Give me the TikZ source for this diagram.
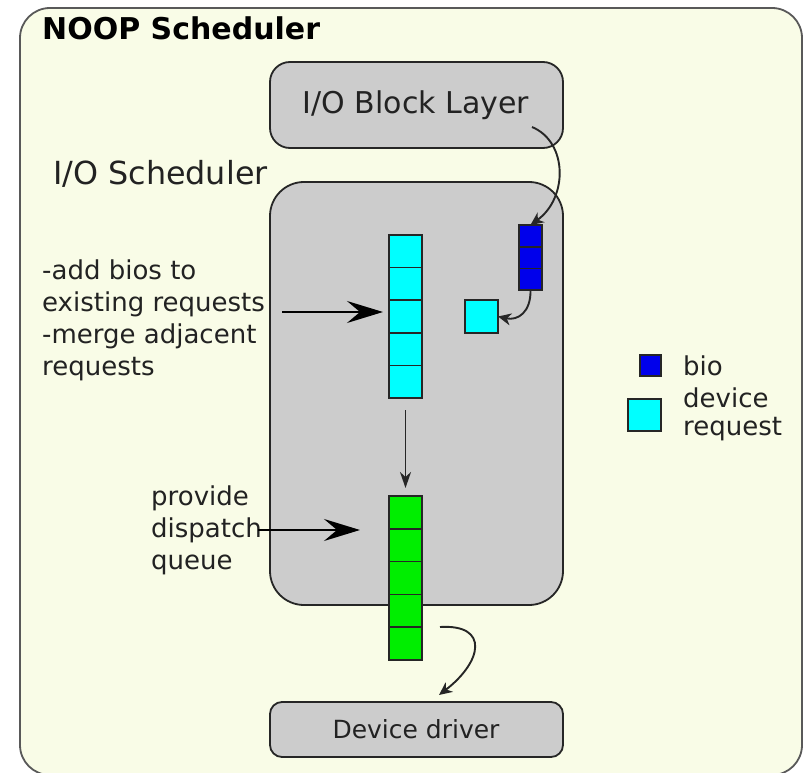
\documentclass[tikz,border=0pt]{standalone}
\usepackage{fontspec}
\setmainfont{DejaVu Sans}
\usetikzlibrary{arrows.meta}
\definecolor{bgyellow}{RGB}{249,252,231}
\definecolor{boxgray}{RGB}{204,204,204}
\definecolor{txt}{RGB}{34,34,34}
\definecolor{cyanc}{RGB}{0,255,255}
\definecolor{bluec}{RGB}{0,0,235}
\definecolor{greenc}{RGB}{0,238,0}
\tikzset{
  graybox/.style={draw=black!85, line width=1.8pt, fill=boxgray},
  cell/.style={draw=black!85, line width=1.7pt, inner sep=0pt, outer sep=0pt},
  cyancell/.style={cell, fill=cyanc, minimum width=33pt, minimum height=32.6pt},
  greencell/.style={cell, fill=greenc, minimum width=33pt, minimum height=32.8pt},
  bluecell/.style={cell, fill=bluec, minimum width=23pt, minimum height=21.7pt},
  lbl/.style={text=txt, inner sep=0pt, align=left},
  bigarrow/.style={draw=black, line width=2pt, -{Stealth[length=36pt,width=22pt,inset=13pt]}},
  midarrow/.style={draw=black!85, line width=1.9pt, -{Stealth[length=16pt,width=11pt,inset=5pt]}},
  smallarrow/.style={draw=black!85, line width=1.9pt, -{Stealth[length=13pt,width=12pt,inset=4pt]}},
}
\begin{document}
\begin{tikzpicture}[x=1pt,y=-1pt]
\useasboundingbox (0,0) rectangle (804,773);
% outer frame
\draw[draw=black!65, line width=1.8pt, fill=bgyellow, rounded corners=30pt] (20,8) rectangle (802,775);
\node[anchor=base west, inner sep=0pt, font=\fontsize{30}{36}\selectfont\bfseries] (title) at (42,40) {NOOP Scheduler};

% block layer
\draw[graybox, rounded corners=20pt] (270,62) rectangle (563,148);
\node[lbl, font=\fontsize{30}{36}\selectfont] (blk) at (416,105) {I/O Block Layer};

% scheduler
\draw[graybox, rounded corners=34pt] (270,182) rectangle (563,605);
\node[lbl, anchor=base west, font=\fontsize{31.8}{36}\selectfont] (schedlbl) at (53,185) {I/O Scheduler};

% device driver
\draw[graybox, rounded corners=12pt] (270,702) rectangle (563,757);
\node[lbl, font=\fontsize{25}{30}\selectfont] (drv) at (416,729) {Device driver};

% cyan stack
\foreach \i in {0,...,4} {
  \node[cyancell] (c\i) at (405.5,{251.3+32.6*\i}) {};
}
% blue stack
\foreach \i in {0,1,2} {
  \node[bluecell] (b\i) at (530.5,{235.8+21.7*\i}) {};
}
% single cyan request
\node[cyancell] (req) at (481.5,316.5) {};
% green stack
\foreach \i in {0,...,4} {
  \node[greencell] (g\i) at (405.5,{512.4+32.8*\i}) {};
}

% left texts
\node[lbl, anchor=west, font=\fontsize{26}{32}\selectfont] (merge) at (42,320)
  {-add bios to\\existing requests\\-merge adjacent\\requests};
\node[lbl, anchor=west, font=\fontsize{26}{32}\selectfont] (disp) at (151,530)
  {provide\\dispatch\\queue};

% legend
\node[cell, fill=bluec, minimum width=21pt, minimum height=21pt] (legbio) at (650.5,365.5) {};
\node[cell, fill=cyanc, minimum width=33pt, minimum height=32pt] (legreq) at (644.5,415) {};
\node[lbl, anchor=west, font=\fontsize{26}{30}\selectfont] (biotxt) at (683,366) {bio};
\node[lbl, anchor=west, font=\fontsize{26}{28}\selectfont] (reqtxt) at (683,414) {device\\request};

% connectors
\coordinate (blkout) at (532,127);
\draw[smallarrow] (blkout) .. controls (568,142) and (568,198) .. (b0.north);
\draw[smallarrow] (b2.south) .. controls (531,312) and (518,321) .. (req.east);
\coordinate (m1) at (282,312);
\coordinate (m2) at (383,312);
\draw[bigarrow] (m1) -- (m2);
\coordinate (d1) at (258,530);
\coordinate (d2) at (360,530);
\draw[bigarrow] (d1) -- (d2);
\coordinate (v1) at (405.5,410);
\coordinate (v2) at (405.5,488);
\draw[midarrow] (v1) -- (v2);
\coordinate (gout) at (440,627);
\coordinate (gin) at (439,695);
\draw[smallarrow] (gout) .. controls (490,624) and (482,662) .. (gin);
\end{tikzpicture}
\end{document}
